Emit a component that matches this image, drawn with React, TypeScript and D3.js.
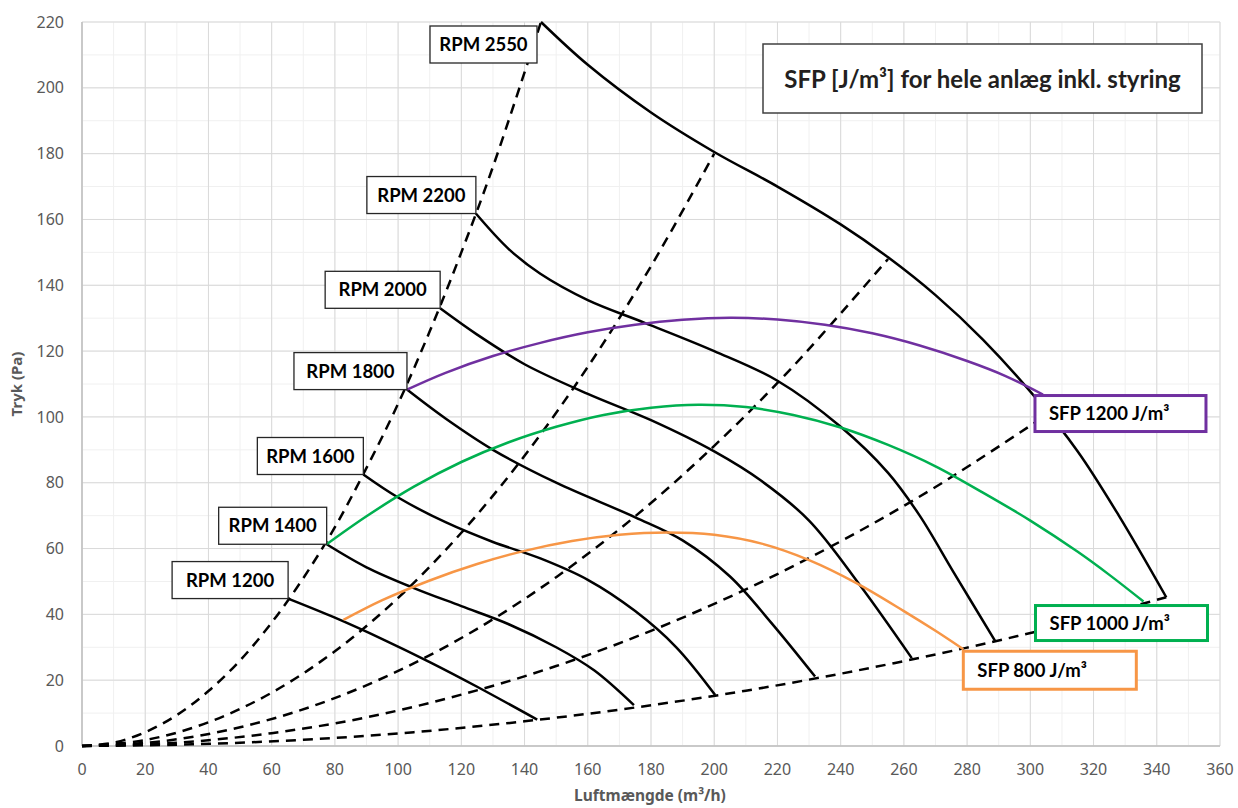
import { scaleLinear, line, curveCatmullRom } from "d3";

type Pt = [number, number];

// axis ticks
const xTicks = [0, 20, 40, 60, 80, 100, 120, 140, 160, 180, 200, 220, 240, 260, 280, 300, 320, 340, 360];
const yTicks = [0, 20, 40, 60, 80, 100, 120, 140, 160, 180, 200, 220];

// fan curves (Luftmængde m3/h, Tryk Pa)
const rpmLabels = ["RPM 1200", "RPM 1400", "RPM 1600", "RPM 1800", "RPM 2000", "RPM 2200", "RPM 2550"];
const rpm1200: Pt[] = [[65.2, 44.8], [80, 39], [95, 32.5], [110, 25.5], [125, 18], [144, 8]];
const rpm1400: Pt[] = [[77.4, 61.3], [90, 54.3], [105, 48], [120, 42.5], [135, 37], [150, 30], [162, 23], [174.6, 12.4]];
const rpm1600: Pt[] = [[89, 82.5], [100, 75.5], [115, 68], [130, 62], [145, 57], [160, 50.5], [175, 41], [188, 30], [200.3, 15.5]];
const rpm1800: Pt[] = [[102.8, 108.3], [115, 99.5], [130, 90], [150, 80], [175, 69.5], [190, 62.5], [205, 51.5], [218, 37.5], [231.9, 21.1]];
const rpm2000: Pt[] = [[113.3, 133], [125, 125], [140, 116], [160, 107], [180, 99], [200, 89.5], [215, 80.5], [230, 68.5], [246, 49], [262.5, 26.7]];
const rpm2200: Pt[] = [[124.6, 161.8], [135, 151], [145, 143.5], [160, 135.5], [178, 128.6], [200, 120], [220, 111], [240, 97], [255, 83], [265, 70], [275.6, 53], [288.8, 32]];
const rpm2550: Pt[] = [[145.2, 220], [160, 207], [180, 192.5], [200, 180.5], [220, 170], [240, 158.5], [255, 148.5], [270, 137], [285, 123.5], [301.5, 106], [315, 89.5], [328, 70], [343, 45.2]];
const rpmCurves = [rpm1200, rpm1400, rpm1600, rpm1800, rpm2000, rpm2200, rpm2550];

// system curves (dashed)
const sys1: Pt[] = [[0, 0], [10, 1], [20, 4.2], [30, 9.4], [40, 16.7], [50, 26], [60, 37.5], [70, 51], [80, 66.5], [90, 84.5], [100, 104], [110, 126], [120, 150], [130, 176], [145.2, 220]];
const sys2: Pt[] = [[0, 0], [20, 1.8], [40, 7.2], [60, 16.2], [80, 28.8], [100, 45], [120, 64.8], [140, 88.2], [160, 115.2], [180, 145.8], [200, 180]];
const sys3: Pt[] = [[0, 0], [25, 1.4], [50, 5.7], [75, 12.8], [100, 22.8], [125, 35.6], [150, 51.3], [175, 69.8], [200, 91.2], [225, 115.4], [255, 148]];
const sys4: Pt[] = [[0, 0], [30, 1], [60, 3.9], [90, 8.7], [120, 15.6], [150, 24.3], [180, 35], [210, 47.6], [240, 62.2], [270, 78.7], [307, 101.8]];
const sys5: Pt[] = [[0, 0], [35, 0.5], [70, 1.9], [105, 4.2], [140, 7.5], [175, 11.7], [210, 16.8], [245, 22.9], [280, 29.9], [310, 36.7], [343, 45.2]];
const sysCurves = [sys1, sys2, sys3, sys4, sys5];

// SFP iso-lines
const sfpLabels = ["SFP 800 J/m³", "SFP 1000 J/m³", "SFP 1200 J/m³"];
const sfp800: Pt[] = [[82.7, 38.3], [95, 44.3], [110, 50.3], [125, 55.3], [140, 59.3], [155, 62.3], [170, 64.2], [185, 64.9], [200, 64.2], [215, 61.5], [230, 56.5], [245, 49.5], [260, 41], [270, 35], [278.8, 29.4]];
const sfp1000: Pt[] = [[77.4, 61.3], [90, 69.8], [105, 78.8], [120, 86.3], [135, 92.3], [150, 97], [165, 100.6], [180, 102.8], [195, 103.7], [210, 103], [225, 100.6], [240, 96.8], [255, 91.5], [270, 85], [285, 77], [300, 68.5], [315, 59], [325, 52], [335.8, 43.9]];
const sfp1200: Pt[] = [[102.8, 108.3], [115, 113.4], [130, 118.5], [145, 122.5], [160, 125.7], [175, 128], [190, 129.5], [205, 130.1], [220, 129.6], [235, 128], [250, 125.4], [265, 121.7], [280, 117], [292, 112.5], [304, 106.8]];
const sfpCurves = [sfp800, sfp1000, sfp1200];
const sfpColors = ["#f79646", "#00b050", "#7030a0"];

const title = "SFP [J/m³] for hele anlæg inkl. styring";

const W = 1238;
const H = 808;
const labelFont = "Lato, 'Open Sans', sans-serif";
const tickFont = "'Noto Sans', 'Open Sans', sans-serif";

export default function App() {
  const x = scaleLinear().domain([0, 360]).range([82, 1220]);
  const y = scaleLinear().domain([0, 220]).range([746, 22]);
  const path = line<Pt>()
    .x((d) => x(d[0]))
    .y((d) => y(d[1]))
    .curve(curveCatmullRom.alpha(0.5));

  const minorX = x.ticks(36);
  const minorY = y.ticks(22);

  // box widths for rpm labels
  const rpmBoxW = [116, 108, 106, 113, 115, 109, 107];
  const rpmBoxH = 37;

  // sfp boxes: offset of the box's top-left from the curve end
  const sfpBox = [
    { dx: 0, dy: 2, w: 173, h: 38 },
    { dx: -108, dy: 4, w: 172, h: 35 },
    { dx: -8, dy: 1, w: 171, h: 36 },
  ];

  return (
    <svg
      width={W}
      height={H}
      style={{ position: "absolute", left: 0, top: 0, display: "block", background: "#fff" }}
    >
      {/* grid */}
      <g>
        {minorX.map((t) => (
          <line key={"mx" + t} x1={x(t)} x2={x(t)} y1={y(0)} y2={y(220)} stroke="#f0f0f0" strokeWidth={1} />
        ))}
        {minorY.map((t) => (
          <line key={"my" + t} x1={x(0)} x2={x(360)} y1={y(t)} y2={y(t)} stroke="#f0f0f0" strokeWidth={1} />
        ))}
        {xTicks.map((t) => (
          <line key={"gx" + t} x1={x(t)} x2={x(t)} y1={y(0)} y2={y(220)} stroke="#d9d9d9" strokeWidth={1} />
        ))}
        {yTicks.map((t) => (
          <line key={"gy" + t} x1={x(0)} x2={x(360)} y1={y(t)} y2={y(t)} stroke="#d9d9d9" strokeWidth={1} />
        ))}
        <line x1={x(0)} x2={x(0)} y1={y(0)} y2={y(220)} stroke="#bfbfbf" strokeWidth={1.5} />
        <line x1={x(0)} x2={x(360)} y1={y(0)} y2={y(0)} stroke="#bfbfbf" strokeWidth={1.5} />
      </g>

      {/* tick labels */}
      <g fontFamily={tickFont} fontSize={16} fill="#595959">
        {yTicks.map((t) => (
          <text key={"ty" + t} x={64} y={y(t)} dy="0.35em" textAnchor="end">
            {t}
          </text>
        ))}
        {xTicks.map((t) => (
          <text key={"tx" + t} x={x(t)} y={775} textAnchor="middle">
            {t}
          </text>
        ))}
      </g>
      <text
        x={650}
        y={801}
        textAnchor="middle"
        fontFamily={tickFont}
        fontWeight="bold"
        fontSize={15.5}
        fill="#595959"
      >
        Luftmængde (m³/h)
      </text>
      <text
        transform={`translate(22,${(y(0) + y(220)) / 2}) rotate(-90)`}
        textAnchor="middle"
        fontFamily={tickFont}
        fontWeight="bold"
        fontSize={15}
        fill="#595959"
      >
        Tryk (Pa)
      </text>

      {/* system curves */}
      {sysCurves.map((c, i) => (
        <path key={"s" + i} d={path(c) || ""} fill="none" stroke="#000" strokeWidth={2.5} strokeDasharray="10,7" />
      ))}

      {/* fan curves */}
      {rpmCurves.map((c, i) => (
        <path key={"r" + i} d={path(c) || ""} fill="none" stroke="#000" strokeWidth={2.5} />
      ))}

      {/* sfp curves */}
      {sfpCurves.map((c, i) => (
        <path key={"f" + i} d={path(c) || ""} fill="none" stroke={sfpColors[i]} strokeWidth={2.5} />
      ))}

      {/* rpm label boxes */}
      {rpmCurves.map((c, i) => {
        const px = x(c[0][0]);
        const py = y(c[0][1]);
        const w = rpmBoxW[i];
        const last = i === rpmCurves.length - 1;
        const left = last ? px - 4 - w : px - w;
        const top = last ? py + 4 : py - rpmBoxH;
        return (
          <g key={"rl" + i}>
            <rect x={left} y={top} width={w} height={rpmBoxH} fill="#fff" stroke="#262626" strokeWidth={1.3} />
            <text
              x={left + w / 2}
              y={top + rpmBoxH / 2}
              dy="0.36em"
              textAnchor="middle"
              fontFamily={labelFont}
              fontWeight="bold"
              fontSize={18.5}
              fill="#000"
            >
              {rpmLabels[i]}
            </text>
          </g>
        );
      })}

      {/* sfp label boxes */}
      {sfpCurves.map((c, i) => {
        const end = c[c.length - 1];
        const b = sfpBox[i];
        const left = x(end[0]) + b.dx;
        const top = y(end[1]) + b.dy;
        return (
          <g key={"fl" + i}>
            <rect x={left} y={top} width={b.w} height={b.h} fill="#fff" stroke={sfpColors[i]} strokeWidth={3} />
            <text
              x={left + 14}
              y={top + b.h / 2}
              dy="0.36em"
              fontFamily={labelFont}
              fontWeight="bold"
              fontSize={18.5}
              fill="#000"
            >
              {sfpLabels[i]}
            </text>
          </g>
        );
      })}

      {/* title box */}
      <g>
        <rect x={763} y={44} width={439} height={69} fill="#fff" stroke="#404040" strokeWidth={1.5} />
        <text
          x={982.5}
          y={88}
          textAnchor="middle"
          fontFamily={labelFont}
          fontWeight="bold"
          fontSize={24}
          fill="#231f20"
        >
          {title}
        </text>
      </g>
    </svg>
  );
}
